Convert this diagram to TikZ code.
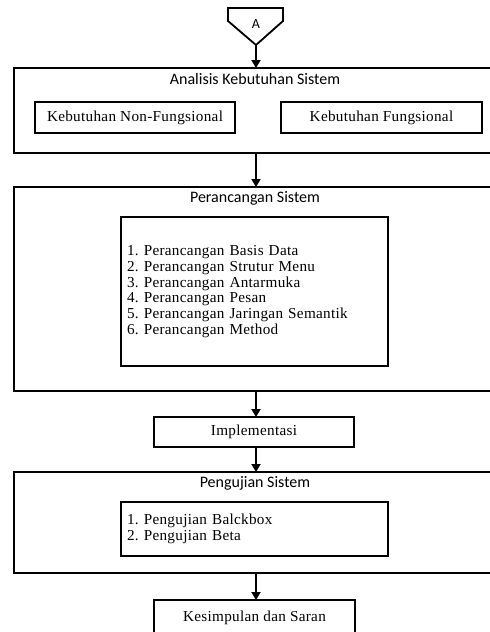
\documentclass[tikz,border=0pt]{standalone}
\usepackage{fontspec}
\setmainfont{Liberation Serif}[LetterSpace=2]
\newfontfamily\titlefont{Carlito}
\usetikzlibrary{arrows.meta}

\begin{document}
\frenchspacing
\begin{tikzpicture}[x=1pt,y=-1pt,
			line width=1.8pt,
			every node/.style = {inner sep=0pt, outer sep=0pt},
			stagebox/.style = {draw, rectangle, anchor=north west,
				minimum width=490pt},
			subbox/.style = {draw, rectangle, anchor=north west,
				font=\fontsize{15.2}{15.7}\selectfont},
			listbox/.style = {subbox, align=left, text width=255pt,
				inner xsep=6pt},
			stagetitle/.style = {font=\titlefont\fontsize{16}{18}\selectfont},
			flow/.style = {-{Triangle[length=8pt,width=9pt]}, line width=1.8pt}]
			\useasboundingbox (0,0) rectangle (490,632);
			\clip (0,0) rectangle (490,632);

			% off-page connector
			\draw (228,8) -- (283,8) -- (283,21) -- (256,45) -- (228,21) -- cycle;
			\node[font=\titlefont\fontsize{14}{16}\selectfont] (conA) at (256,24) {A};
			\coordinate (aTip) at (256,45);

			% analisis
			\node[stagebox, minimum height=85pt] (analisis) at (14,68) {};
			\node[stagetitle] (analisisTitle) at (255,79) {Analisis Kebutuhan Sistem};
			\node[subbox, minimum width=200pt, minimum height=31pt] (nonFungsional) at (35,102) {Kebutuhan Non-Fungsional};
			\node[subbox, minimum width=201pt, minimum height=31pt] (fungsional) at (281,102) {Kebutuhan Fungsional};

			% perancangan
			\node[stagebox, minimum height=204pt] (perancangan) at (14,187) {};
			\node[stagetitle] (perancanganTitle) at (255,198) {Perancangan Sistem};
			\node[listbox, minimum height=149pt] (perancanganList) at (121,217) {1. Perancangan Basis Data\\
				2. Perancangan Strutur Menu\\
				3. Perancangan Antarmuka\\
				4. Perancangan Pesan\\
				5. Perancangan Jaringan Semantik\\
				6. Perancangan Method};

			% implementasi
			\node[subbox, minimum width=200pt, minimum height=30pt] (implementasi) at (154,417) {Implementasi};

			% pengujian
			\node[stagebox, minimum height=101pt] (pengujian) at (14,472) {};
			\node[stagetitle] (pengujianTitle) at (255,483) {Pengujian Sistem};
			\node[listbox, minimum height=54pt] (pengujianList) at (121,502) {1. Pengujian Balckbox\\
				2. Pengujian Beta};

			% kesimpulan
			\node[subbox, minimum width=201pt, minimum height=36pt] (kesimpulan) at (154,600) {Kesimpulan dan Saran};

			\draw[flow] (aTip) -- (aTip |- analisis.north);
			\draw[flow] (analisis.south -| aTip) -- (aTip |- perancangan.north);
			\draw[flow] (perancangan.south -| aTip) -- (aTip |- implementasi.north);
			\draw[flow] (implementasi.south -| aTip) -- (aTip |- pengujian.north);
			\draw[flow] (pengujian.south -| aTip) -- (aTip |- kesimpulan.north);
		\end{tikzpicture}
\end{document}
